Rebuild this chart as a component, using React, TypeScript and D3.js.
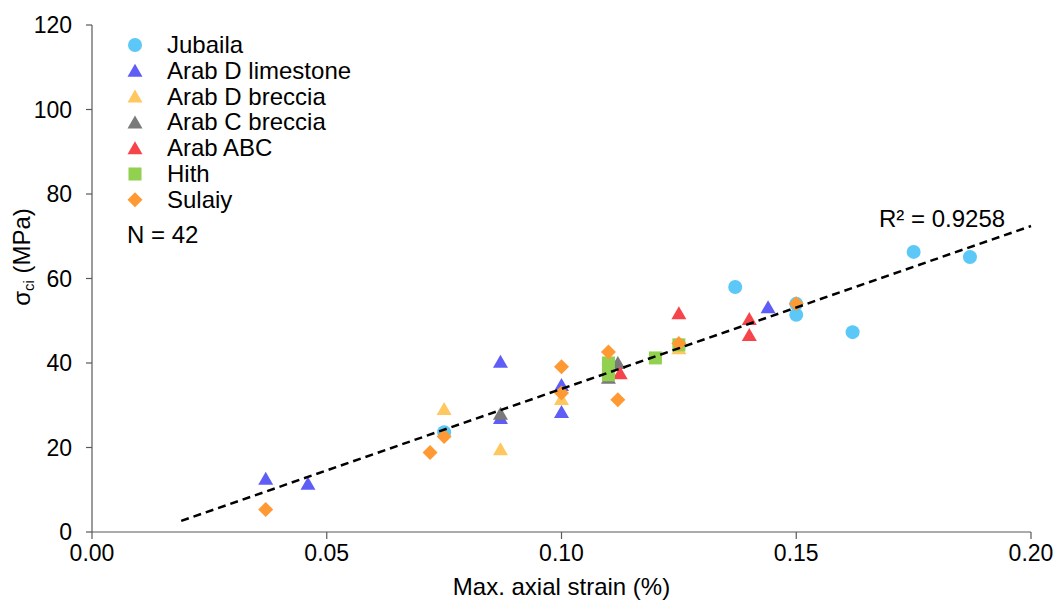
import React from "react";
import * as d3 from "d3";

// Max. axial strain (%) and uniaxial compressive strength (MPa) per formation
const jubailaX = [0.075, 0.137, 0.150, 0.150, 0.162, 0.175, 0.187];
const jubailaY = [23.6, 58.0, 51.4, 54.0, 47.3, 66.3, 65.1];

const arabDLimestoneX = [0.037, 0.046, 0.087, 0.087, 0.100, 0.100, 0.144];
const arabDLimestoneY = [12.6, 11.4, 40.3, 27.0, 34.8, 28.4, 53.2];

const arabDBrecciaX = [0.075, 0.087, 0.100, 0.125];
const arabDBrecciaY = [29.1, 19.6, 31.5, 43.5];

const arabCBrecciaX = [0.087, 0.110, 0.112];
const arabCBrecciaY = [28.0, 36.5, 40.0];

const arabABCX = [0.1125, 0.125, 0.140, 0.140];
const arabABCY = [37.6, 51.8, 50.4, 46.6];

const hithX = [0.110, 0.110, 0.120, 0.125];
const hithY = [40.0, 37.2, 41.2, 44.3];

const sulaiyX = [0.037, 0.072, 0.075, 0.100, 0.100, 0.110, 0.112, 0.125, 0.150];
const sulaiyY = [5.3, 18.8, 22.6, 39.1, 32.9, 42.6, 31.3, 44.6, 54.0];

// Linear trend line y = slope * x + intercept
const trendSlope = 385.6;
const trendIntercept = -4.7;
const trendRange = [0.019, 0.2];
const rSquared = "R² = 0.9258";
const sampleCount = "N = 42";

const xTicks = [0, 0.05, 0.1, 0.15, 0.2];
const yTicks = [0, 20, 40, 60, 80, 100, 120];

type Shape = "circle" | "triangle" | "square" | "diamond";

const series: { name: string; xs: number[]; ys: number[]; shape: Shape; color: string }[] = [
  { name: "Jubaila", xs: jubailaX, ys: jubailaY, shape: "circle", color: "#5BC8F7" },
  { name: "Arab D limestone", xs: arabDLimestoneX, ys: arabDLimestoneY, shape: "triangle", color: "#5E5EF7" },
  { name: "Arab D breccia", xs: arabDBrecciaX, ys: arabDBrecciaY, shape: "triangle", color: "#FFC75F" },
  { name: "Arab C breccia", xs: arabCBrecciaX, ys: arabCBrecciaY, shape: "triangle", color: "#7A7A7A" },
  { name: "Arab ABC", xs: arabABCX, ys: arabABCY, shape: "triangle", color: "#F5444A" },
  { name: "Hith", xs: hithX, ys: hithY, shape: "square", color: "#92D050" },
  { name: "Sulaiy", xs: sulaiyX, ys: sulaiyY, shape: "diamond", color: "#FF9933" },
];

const W = 1057;
const H = 605;
const FONT = "'Liberation Sans', Arial, sans-serif";

const x = d3.scaleLinear().domain([0, 0.2]).range([92, 1031]);
const y = d3.scaleLinear().domain([0, 120]).range([532, 25]);

function Marker({ shape, cx, cy, color }: { shape: Shape; cx: number; cy: number; color: string }) {
  if (shape === "circle") return <circle cx={cx} cy={cy} r={7} fill={color} />;
  if (shape === "square") return <rect x={cx - 6.5} y={cy - 6.5} width={13} height={13} fill={color} />;
  if (shape === "diamond")
    return (
      <path
        d={`M${cx},${cy - 7.5}L${cx + 7.5},${cy}L${cx},${cy + 7.5}L${cx - 7.5},${cy}Z`}
        fill={color}
      />
    );
  return (
    <path d={`M${cx},${cy - 7}L${cx + 7.5},${cy + 6}L${cx - 7.5},${cy + 6}Z`} fill={color} />
  );
}

export default function App() {
  const axisColor = "#595959";
  const trendLine = d3.line<number>()
    .x((v) => x(v))
    .y((v) => y(trendSlope * v + trendIntercept))(trendRange);

  return (
    <svg
      width={W}
      height={H}
      style={{ position: "absolute", left: 0, top: 0, background: "#fff" }}
      fontFamily={FONT}
    >
      {/* axes */}
      <line x1={x(0)} x2={x(0)} y1={y(120)} y2={y(0)} stroke={axisColor} strokeWidth={1.2} />
      <line x1={x(0)} x2={x(0.2)} y1={y(0)} y2={y(0)} stroke={axisColor} strokeWidth={1.2} />
      {yTicks.map((t) => (
        <g key={"y" + t}>
          <line x1={x(0) - 6} x2={x(0)} y1={y(t)} y2={y(t)} stroke={axisColor} strokeWidth={1.2} />
          <text x={72} y={y(t) + 8} textAnchor="end" fontSize={23} fill="#000">
            {t}
          </text>
        </g>
      ))}
      {xTicks.map((t) => (
        <g key={"x" + t}>
          <line x1={x(t)} x2={x(t)} y1={y(0)} y2={y(0) + 7} stroke={axisColor} strokeWidth={1.2} />
          <text x={x(t)} y={561} textAnchor="middle" fontSize={23} fill="#000">
            {t.toFixed(2)}
          </text>
        </g>
      ))}

      {/* axis titles */}
      <text x={x(0.1)} y={595} textAnchor="middle" fontSize={24} fill="#000">
        Max. axial strain (%)
      </text>
      <text transform="translate(30,257) rotate(-90)" textAnchor="middle" fontSize={24} fill="#000">
        σ<tspan fontSize={15} dy={4}>ci</tspan>
        <tspan dy={-4}> (MPa)</tspan>
      </text>

      {/* data points */}
      {series.map((s) =>
        s.xs.map((xv, i) => (
          <Marker key={s.name + i} shape={s.shape} cx={x(xv)} cy={y(s.ys[i])} color={s.color} />
        ))
      )}

      {/* trend line */}
      <path d={trendLine ?? ""} fill="none" stroke="#000" strokeWidth={2.5} strokeDasharray="8,5" />
      <text x={879} y={227} fontSize={24} fill="#000">
        {rSquared}
      </text>

      {/* legend */}
      {series.map((s, i) => (
        <g key={"leg" + s.name}>
          <Marker shape={s.shape} cx={135} cy={45 + i * 25.8} color={s.color} />
          <text x={167} y={45 + i * 25.8 + 8} fontSize={24} fill="#000">
            {s.name}
          </text>
        </g>
      ))}
      <text x={127} y={243} fontSize={24} fill="#000">
        {sampleCount}
      </text>
    </svg>
  );
}
